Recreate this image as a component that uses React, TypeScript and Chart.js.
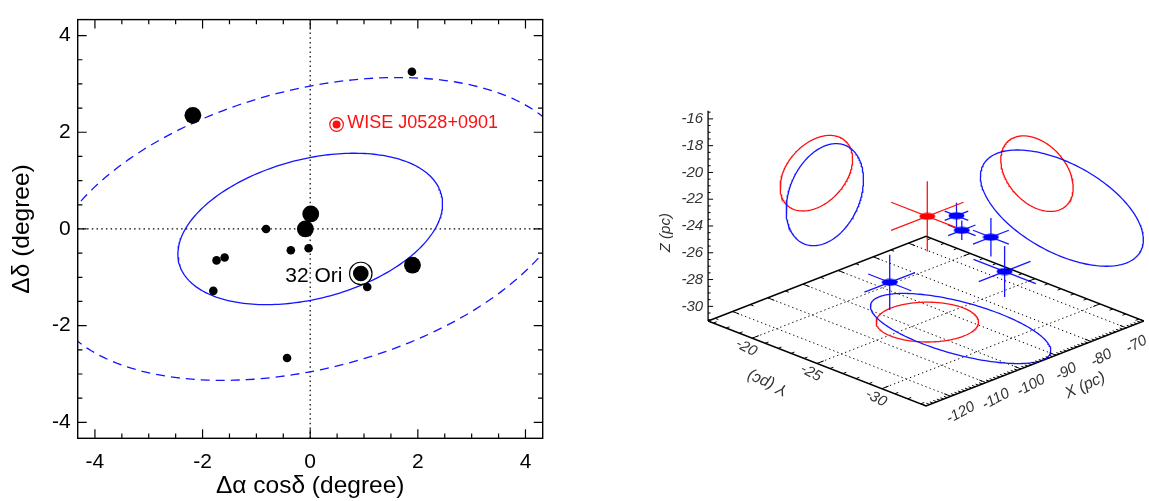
import React, { useEffect, useRef } from "react";
import { Chart, registerables } from "chart.js";

Chart.register(...registerables);

const FONT = "'Liberation Sans', Arial, Helvetica, sans-serif";
const BLUE = "#1414ff";
const RED = "#ff1010";

// ---------------- Left panel data (degrees) ----------------
const memberRA = [1.89, -2.18, 0.01, -0.09, -0.82, -0.36, -0.03, -1.74, -1.59, -1.8, 1.9, 1.06, -0.43];
const memberDec = [3.25, 2.35, 0.31, 0.0, 0.0, -0.44, -0.4, -0.65, -0.59, -1.28, -0.75, -1.2, -2.67];
const memberClass = ["faint", "bright", "bright", "bright", "faint", "faint", "faint", "faint", "faint", "faint", "bright", "faint", "faint"];
const ori32RA = [0.94];
const ori32Dec = [-0.92];
const wiseRA = [0.49];
const wiseDec = [2.16];
const ellipseCenter = [0, 0];
const ellipseAxes = [2.54, 1.43];
const ellipseAngleDeg = [17.7];
const ellipseLevels = [1, 2];
const labelText = ["WISE J0528+0901", "32 Ori"];
const labelRA = [0.69, 0.6];
const labelDec = [2.2, -0.985];
const raTicks = [-4, -2, 0, 2, 4];
const decTicks = [-4, -2, 0, 2, 4];
const raLimits = [-4.32, 4.32];
const decLimits = [-4.33, 4.33];

// ---------------- Right panel data (pc) ----------------
const xLimits = [-127, -65];
const yLimits = [-33.4, -16.6];
const zLimits = [-31.1, -15.4];
const xTicks3d = [-120, -110, -100, -90, -80, -70];
const yTicks3d = [-20, -25, -30];
const zTicks3d = [-30, -28, -26, -24, -22, -20, -18, -16];
const memberX = [-102.1, -96.9, -75.7, -81.4, -111.5];
const memberY = [-29.0, -28.0, -24.5, -27.1, -26.4];
const memberZ = [-21.1, -23.1, -27.1, -28.1, -26.1];
const memberErrX = [3.35, 3.9, 5.1, 7.35, 7.2];
const memberErrY = [0.91, 1.06, 1.38, 2.4, 1.66];
const memberErrZ = [0.97, 0.73, 1.44, 1.9, 2.07];
const wiseXYZ = [-96.2, -25.15, -23.2];
const wiseErrXYZ = [10.3, 2.79, 2.62];
const groupCenterXYZ = [-93.8, -27.07, -25.05];
const groupSigmaXYZ = [10.99, 6.28, 3.64];

// view (orthographic, azimuth 45deg)
const VIEW_TILT = 0.3896;
const VIEW_ZH = 0.9662;

function ellipse2D(k: number, n = 240) {
  const th = (ellipseAngleDeg[0] * Math.PI) / 180;
  const c = Math.cos(th);
  const s = Math.sin(th);
  const pts: { x: number; y: number }[] = [];
  for (let i = 0; i <= n; i++) {
    const t = (i / n) * 2 * Math.PI;
    const u = k * ellipseAxes[0] * Math.cos(t);
    const v = k * ellipseAxes[1] * Math.sin(t);
    pts.push({ x: ellipseCenter[0] + u * c - v * s, y: ellipseCenter[1] + u * s + v * c });
  }
  return pts;
}

function project(X: number, Y: number, Z: number) {
  const nx = (X - xLimits[0]) / (xLimits[1] - xLimits[0]);
  const ny = (yLimits[1] - Y) / (yLimits[1] - yLimits[0]);
  const nz = (Z - zLimits[0]) / (zLimits[1] - zLimits[0]);
  return { x: nx + ny, y: (nx - ny) * VIEW_TILT + nz * VIEW_ZH };
}

function ellipse3D(plane: string, c: number[], s: number[], n = 200) {
  const pts: { x: number; y: number }[] = [];
  for (let i = 0; i <= n; i++) {
    const t = (i / n) * 2 * Math.PI;
    const ct = Math.cos(t);
    const st = Math.sin(t);
    if (plane === "floor") pts.push(project(c[0] + s[0] * ct, c[1] + s[1] * st, zLimits[0]));
    else if (plane === "back-left") pts.push(project(c[0] + s[0] * ct, yLimits[1], c[2] + s[2] * st));
    else pts.push(project(xLimits[1], c[1] + s[1] * ct, c[2] + s[2] * st));
  }
  return pts;
}

function lineDs(data: any[], color: string, width: number, dash: number[], order: number) {
  return {
    data,
    showLine: true,
    borderColor: color,
    borderWidth: width,
    borderDash: dash,
    pointRadius: 0,
    fill: false,
    tension: 0,
    order,
  };
}

function makeDisc(color: string) {
  const c = document.createElement("canvas");
  c.width = 17;
  c.height = 8;
  const g = c.getContext("2d")!;
  g.fillStyle = color;
  g.beginPath();
  g.ellipse(8.5, 4, 8, 3.4, 0, 0, Math.PI * 2);
  g.fill();
  return c;
}

// ---------- plugins ----------
const leftFramePlugin = {
  id: "leftFrame",
  afterDatasetsDraw(chart: any) {
    const { ctx, chartArea: a, scales } = chart;
    const sx = scales.x;
    const sy = scales.y;
    ctx.save();
    ctx.strokeStyle = "#000";
    ctx.lineWidth = 1.4;
    ctx.strokeRect(a.left, a.top, a.right - a.left, a.bottom - a.top);
    ctx.lineWidth = 1.2;
    const minorStep = 0.5;
    for (let v = -4.5; v <= 4.5001; v += minorStep) {
      const major = raTicks.some((t) => Math.abs(t - v) < 1e-6);
      const len = major ? 9 : 4.7;
      if (v > raLimits[0] && v < raLimits[1]) {
        const px = sx.getPixelForValue(v);
        ctx.beginPath();
        ctx.moveTo(px, a.bottom);
        ctx.lineTo(px, a.bottom - len);
        ctx.moveTo(px, a.top);
        ctx.lineTo(px, a.top + len);
        ctx.stroke();
      }
      const majorY = decTicks.some((t) => Math.abs(t - v) < 1e-6);
      const lenY = majorY ? 9 : 4.7;
      if (v > decLimits[0] && v < decLimits[1]) {
        const py = sy.getPixelForValue(v);
        ctx.beginPath();
        ctx.moveTo(a.left, py);
        ctx.lineTo(a.left + lenY, py);
        ctx.moveTo(a.right, py);
        ctx.lineTo(a.right - lenY, py);
        ctx.stroke();
      }
    }
    // annotations
    ctx.textBaseline = "middle";
    labelText.forEach((txt, i) => {
      const px = sx.getPixelForValue(labelRA[i]);
      const py = sy.getPixelForValue(labelDec[i]);
      if (i === 0) {
        ctx.fillStyle = RED;
        ctx.font = `18px ${FONT}`;
        ctx.textAlign = "left";
      } else {
        ctx.fillStyle = "#000";
        ctx.font = `21px ${FONT}`;
        ctx.textAlign = "right";
      }
      ctx.fillText(txt, px, py);
    });
    ctx.restore();
  },
};

const box3dPlugin = {
  id: "box3d",
  afterDatasetsDraw(chart: any) {
    const { ctx, scales } = chart;
    const P = (X: number, Y: number, Z: number) => {
      const p = project(X, Y, Z);
      return { x: scales.x.getPixelForValue(p.x), y: scales.y.getPixelForValue(p.y) };
    };
    const [xmin, xmax] = xLimits;
    const [ymin, ymax] = yLimits;
    const [zmin] = zLimits;
    ctx.save();
    ctx.strokeStyle = "#000";
    ctx.lineWidth = 1;
    const tick = (a: number[], b: number[]) => {
      const p = P(a[0], a[1], a[2]);
      const q = P(b[0], b[1], b[2]);
      ctx.beginPath();
      ctx.moveTo(p.x, p.y);
      ctx.lineTo(q.x, q.y);
      ctx.stroke();
    };
    // X ticks (front edge dense, back edge sparse)
    for (let v = Math.ceil(xmin); v <= xmax; v += 1) {
      const major = xTicks3d.includes(v);
      tick([v, ymin, zmin], [v, ymin + (major ? 0.5 : 0.25), zmin]);
      if (v % 5 === 0) tick([v, ymax, zmin], [v, ymax - (major ? 0.5 : 0.25), zmin]);
    }
    // Y ticks
    for (let v = Math.ceil(ymin); v <= ymax; v += 1) {
      const major = yTicks3d.includes(v);
      tick([xmin, v, zmin], [xmin + (major ? 1.9 : 0.95), v, zmin]);
      tick([xmax, v, zmin], [xmax - (major ? 1.9 : 0.95), v, zmin]);
    }
    // Z ticks
    for (let v = -31; v <= zLimits[1]; v += 0.5) {
      const major = zTicks3d.includes(v);
      const p = P(xmin, ymax, v);
      ctx.beginPath();
      ctx.moveTo(p.x, p.y);
      ctx.lineTo(p.x + (major ? 5 : 2.5), p.y);
      ctx.stroke();
    }
    // labels
    ctx.fillStyle = "#333";
    const text = (t: string, x: number, y: number, rotDeg: number, size: number, align = "center") => {
      ctx.save();
      ctx.translate(x, y);
      ctx.rotate((rotDeg * Math.PI) / 180);
      ctx.font = `italic ${size}px ${FONT}`;
      ctx.textAlign = align;
      ctx.textBaseline = "middle";
      ctx.fillText(t, 0, 0);
      ctx.restore();
    };
    xTicks3d.forEach((v) => {
      const p = P(v, ymin, zmin);
      text(String(v), p.x + 10, p.y + 16.5, -28, 15);
    });
    yTicks3d.forEach((v) => {
      const p = P(xmin, v, zmin);
      text(String(v), p.x - 6, p.y + 9.5, 28, 15);
    });
    zTicks3d.forEach((v) => {
      const p = P(xmin, ymax, v);
      text(String(v), p.x - 5, p.y, 0, 15, "right");
    });
    const xt = P(-84, ymin, zmin);
    text("X (pc)", xt.x + 8, xt.y + 38.5, -25, 16);
    const yt = P(xmin, -23.5, zmin);
    text("Y (pc)", yt.x - 30, yt.y + 27, 203, 16);
    const zt = P(xmin, ymax, -24.5);
    text("Z (pc)", zt.x - 42, zt.y, -90, 15);
    ctx.restore();
  },
};

export default function App() {
  const leftRef = useRef<HTMLCanvasElement | null>(null);
  const rightRef = useRef<HTMLCanvasElement | null>(null);

  useEffect(() => {
    document.body.style.margin = "0";
    document.body.style.overflow = "hidden";

    const memberPts = memberRA.map((x, i) => ({ x, y: memberDec[i] }));
    const memberRadii = memberClass.map((c) => (c === "bright" ? 8.4 : 4.3));
    const oriPts = ori32RA.map((x, i) => ({ x, y: ori32Dec[i] }));
    const wisePts = wiseRA.map((x, i) => ({ x, y: wiseDec[i] }));

    const leftChart = new Chart(leftRef.current!, {
      type: "scatter",
      data: {
        datasets: [
          { data: wisePts, pointRadius: 4, pointBackgroundColor: RED, pointBorderWidth: 0, order: 0 },
          { data: wisePts, pointRadius: 6.8, pointBackgroundColor: "#fff", pointBorderColor: RED, pointBorderWidth: 1.2, order: 1 },
          { data: oriPts, pointRadius: 7.8, pointBackgroundColor: "#000", pointBorderWidth: 0, order: 0 },
          { data: oriPts, pointRadius: 11.2, pointBackgroundColor: "#fff", pointBorderColor: "#000", pointBorderWidth: 1.2, order: 1 },
          { data: memberPts, pointRadius: memberRadii, pointBackgroundColor: "#000", pointBorderWidth: 0, order: 2 },
          lineDs(ellipse2D(ellipseLevels[0]), BLUE, 1.3, [], 3),
          lineDs(ellipse2D(ellipseLevels[1]), BLUE, 1.3, [9, 6], 3),
          lineDs([{ x: 0, y: decLimits[0] }, { x: 0, y: decLimits[1] }], "#000", 1.2, [1.5, 3.2], 4),
          lineDs([{ x: raLimits[0], y: 0 }, { x: raLimits[1], y: 0 }], "#000", 1.2, [1.5, 3.2], 4),
        ] as any,
      },
      options: {
        responsive: false,
        animation: false,
        events: [],
        devicePixelRatio: 1,
        layout: { padding: { left: 7.7, right: 17.3, top: 6, bottom: 0 } },
        plugins: { legend: { display: false }, tooltip: { enabled: false } },
        scales: {
          x: {
            type: "linear",
            min: raLimits[0],
            max: raLimits[1],
            grid: { display: false, drawTicks: false },
            border: { display: false },
            afterBuildTicks: (s: any) => {
              s.ticks = raTicks.map((v) => ({ value: v }));
            },
            afterFit: (s: any) => {
              s.height = 62.7;
            },
            ticks: { color: "#000", font: { family: FONT, size: 21 }, padding: 11, maxRotation: 0, autoSkip: false },
            title: { display: true, text: "Δα cosδ (degree)", color: "#000", font: { family: FONT, size: 24.5 }, padding: { top: 0, bottom: 0 } },
          },
          y: {
            type: "linear",
            min: decLimits[0],
            max: decLimits[1],
            grid: { display: false, drawTicks: false },
            border: { display: false },
            afterBuildTicks: (s: any) => {
              s.ticks = decTicks.map((v) => ({ value: v }));
            },
            afterFit: (s: any) => {
              s.width = 70;
            },
            ticks: { color: "#000", font: { family: FONT, size: 21 }, padding: 7, autoSkip: false },
            title: { display: true, text: "Δδ (degree)", color: "#000", font: { family: FONT, size: 24.5 }, padding: { top: 0, bottom: 0 } },
          },
        },
      } as any,
      plugins: [leftFramePlugin],
    });

    // ---------- right panel ----------
    const [xmin, xmax] = xLimits;
    const [ymin, ymax] = yLimits;
    const [zmin, zmax] = zLimits;
    const ds: any[] = [];
    xTicks3d.forEach((v) => ds.push(lineDs([project(v, ymin, zmin), project(v, ymax, zmin)], "#000", 1, [1.3, 3], 5)));
    yTicks3d.forEach((v) => ds.push(lineDs([project(xmin, v, zmin), project(xmax, v, zmin)], "#000", 1, [1.3, 3], 5)));
    ds.push(
      lineDs(
        [project(xmin, ymax, zmin), project(xmax, ymax, zmin), project(xmax, ymin, zmin), project(xmin, ymin, zmin), project(xmin, ymax, zmin)],
        "#000",
        1.5,
        [],
        4
      )
    );
    ds.push(lineDs([project(xmin, ymax, zmin), project(xmin, ymax, zmax)], "#000", 1.3, [], 4));

    ["floor", "back-left", "back-right"].forEach((pl) => {
      ds.push(lineDs(ellipse3D(pl, groupCenterXYZ, groupSigmaXYZ), BLUE, 1.3, [], 3));
      ds.push(lineDs(ellipse3D(pl, wiseXYZ, wiseErrXYZ), RED, 1.3, [], 3));
    });

    memberX.forEach((x, i) => {
      const y = memberY[i];
      const z = memberZ[i];
      ds.push(lineDs([project(x - memberErrX[i], y, z), project(x + memberErrX[i], y, z)], BLUE, 1.3, [], 2));
      ds.push(lineDs([project(x, y - memberErrY[i], z), project(x, y + memberErrY[i], z)], BLUE, 1.3, [], 2));
      ds.push(lineDs([project(x, y, z - memberErrZ[i]), project(x, y, z + memberErrZ[i])], BLUE, 1.3, [], 2));
    });
    const [wx, wy, wz] = wiseXYZ;
    ds.push(lineDs([project(wx - wiseErrXYZ[0], wy, wz), project(wx + wiseErrXYZ[0], wy, wz)], RED, 1.3, [], 1));
    ds.push(lineDs([project(wx, wy - wiseErrXYZ[1], wz), project(wx, wy + wiseErrXYZ[1], wz)], RED, 1.3, [], 1));
    ds.push(lineDs([project(wx, wy, wz - wiseErrXYZ[2]), project(wx, wy, wz + wiseErrXYZ[2])], RED, 1.3, [], 1));

    ds.push({
      data: memberX.map((x, i) => project(x, memberY[i], memberZ[i])),
      pointStyle: makeDisc("#0000ff"),
      pointRadius: 3,
      order: 0,
    });
    ds.push({
      data: [project(wx, wy, wz)],
      pointStyle: makeDisc("#ff0000"),
      pointRadius: 3,
      order: 0,
    });

    const rightChart = new Chart(rightRef.current!, {
      type: "scatter",
      data: { datasets: ds },
      options: {
        responsive: false,
        animation: false,
        events: [],
        devicePixelRatio: 1,
        layout: { padding: 0 },
        plugins: { legend: { display: false }, tooltip: { enabled: false } },
        scales: {
          x: { type: "linear", display: false, min: -0.47297, max: 2.0 },
          y: { type: "linear", display: false, min: -0.80405, max: 1.4527 },
        },
      } as any,
      plugins: [box3dPlugin],
    });

    return () => {
      leftChart.destroy();
      rightChart.destroy();
    };
  }, []);

  return (
    <div style={{ position: "absolute", left: 0, top: 0, width: 1149, height: 501, background: "#fff", overflow: "hidden" }}>
      <canvas ref={leftRef} width={560} height={501} style={{ position: "absolute", left: 0, top: 0, width: 560, height: 501 }} />
      <canvas ref={rightRef} width={549} height={501} style={{ position: "absolute", left: 600, top: 0, width: 549, height: 501 }} />
    </div>
  );
}
